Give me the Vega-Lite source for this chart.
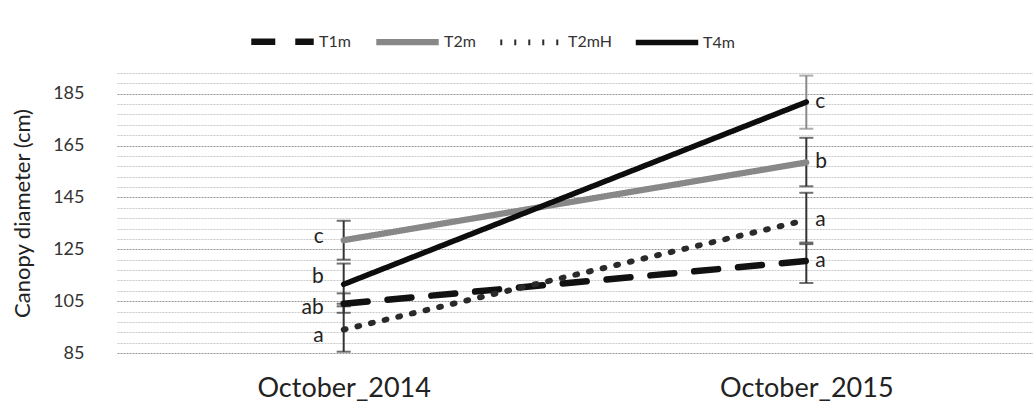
{
  "$schema": "https://vega.github.io/schema/vega-lite/v6.json",
  "width": 916,
  "height": 280,
  "autosize": {"type": "none"},
  "padding": {"left": 117, "top": 73, "right": 0, "bottom": 56},
  "background": "white",
  "config": {
    "font": "Lato",
    "view": {"stroke": null}
  },
  "data": {
    "values": [
      {"series": "T1m", "date": "October_2014", "mean": 104, "lo": 100.5, "hi": 108, "letter": "ab"},
      {"series": "T2m", "date": "October_2014", "mean": 128.5, "lo": 121, "hi": 136, "letter": "c"},
      {"series": "T2mH", "date": "October_2014", "mean": 94, "lo": 85.5, "hi": 103, "letter": "a"},
      {"series": "T4m", "date": "October_2014", "mean": 111.5, "lo": 104, "hi": 119.5, "letter": "b"},
      {"series": "T1m", "date": "October_2015", "mean": 120.5, "lo": 112, "hi": 127, "letter": "a"},
      {"series": "T2m", "date": "October_2015", "mean": 158.5, "lo": 149.3, "hi": 168, "letter": "b"},
      {"series": "T2mH", "date": "October_2015", "mean": 136.3, "lo": 127.6, "hi": 146.8, "letter": "a"},
      {"series": "T4m", "date": "October_2015", "mean": 181.8, "lo": 171.5, "hi": 192, "letter": "c"}
    ]
  },
  "encoding": {
    "x": {
      "field": "date", "type": "nominal",
      "scale": {"type": "point", "padding": 0.49},
      "axis": {
        "title": null, "labelAngle": 0, "domain": false, "ticks": false, "grid": false,
        "labelFontSize": 27, "labelColor": "#222", "labelPadding": 22
      }
    }
  },
  "layer": [
    {
      "mark": {"type": "rule", "strokeWidth": 2},
      "encoding": {
        "y": {
          "field": "lo", "type": "quantitative",
          "scale": {"domain": [85, 193], "nice": false, "zero": false},
          "axis": {
            "title": "Canopy diameter (cm)",
            "titleFontSize": 22, "titleFontWeight": "normal", "titleColor": "#222", "titlePadding": 18,
            "values": [85, 89, 93, 97, 101, 105, 109, 113, 117, 121, 125, 129, 133, 137, 141, 145, 149, 153, 157, 161, 165, 169, 173, 177, 181, 185, 189, 193],
            "tickCount": 60,
            "labelExpr": "(datum.value - 85) % 20 == 0 ? datum.label : ''",
            "labelOverlap": false, "labelFlush": false,
            "labelFontSize": 18, "labelColor": "#333", "labelPadding": 33,
            "domain": false, "ticks": false, "grid": true,
            "gridColor": {"condition": {"test": "(datum.value - 85) % 20 == 0", "value": "#959595"}, "value": "#c9c9c9"},
            "gridDash": [2, 1],
            "gridWidth": 1.2
          }
        },
        "y2": {"field": "hi"},
        "color": {"condition": {"test": "datum.series == 'T4m' && datum.date == 'October_2015'", "value": "#8a8a8a"}, "value": "#333"}
      }
    },
    {
      "mark": {"type": "tick", "thickness": 2, "size": 14},
      "encoding": {
        "y": {"field": "lo", "type": "quantitative"},
        "color": {"condition": {"test": "datum.series == 'T4m' && datum.date == 'October_2015'", "value": "#8a8a8a"}, "value": "#333"}
      }
    },
    {
      "mark": {"type": "tick", "thickness": 2, "size": 14},
      "encoding": {
        "y": {"field": "hi", "type": "quantitative"},
        "color": {"condition": {"test": "datum.series == 'T4m' && datum.date == 'October_2015'", "value": "#8a8a8a"}, "value": "#333"}
      }
    },
    {
      "mark": {"type": "line", "strokeCap": "round"},
      "encoding": {
        "y": {"field": "mean", "type": "quantitative"},
        "strokeWidth": {
          "field": "series", "type": "nominal",
          "scale": {"domain": ["T1m", "T2m", "T2mH", "T4m"], "range": [6.5, 5.5, 7, 5.5]},
          "legend": null
        },
        "color": {
          "field": "series", "type": "nominal",
          "scale": {"domain": ["T1m", "T2m", "T2mH", "T4m"], "range": ["#111", "#888888", "#2a2a2a", "#0d0d0d"]},
          "legend": {
            "title": null, "orient": "none", "direction": "horizontal",
            "legendX": 131, "legendY": -66,
            "symbolType": "stroke", "symbolSize": 3900, "symbolStrokeWidth": 5.5,
            "labelFontSize": 16, "labelColor": "#333", "labelOffset": 2, "columnPadding": 12
          }
        },
        "strokeDash": {
          "field": "series", "type": "nominal",
          "scale": {"domain": ["T1m", "T2m", "T2mH", "T4m"], "range": [[24, 20], [1, 0], [2, 12], [1, 0]]},
          "legend": {
            "title": null, "orient": "none", "direction": "horizontal",
            "legendX": 131, "legendY": -66,
            "symbolType": "stroke", "symbolSize": 3900, "symbolStrokeWidth": 5.5,
            "labelFontSize": 16, "labelColor": "#333", "labelOffset": 2, "columnPadding": 12
          }
        }
      }
    },
    {
      "transform": [{"filter": "datum.date == 'October_2014'"}],
      "mark": {
        "type": "text", "align": "right", "baseline": "middle", "dx": -20, "fontSize": 21, "color": "#222",
        "dy": {"expr": "datum.letter == 'b' ? -7 : datum.letter == 'ab' ? 4 : datum.letter == 'a' ? 6 : -3"}
      },
      "encoding": {
        "y": {"field": "mean", "type": "quantitative"},
        "text": {"field": "letter"}
      }
    },
    {
      "transform": [{"filter": "datum.date == 'October_2015'"}],
      "mark": {"type": "text", "align": "left", "baseline": "middle", "dx": 9, "fontSize": 21, "color": "#222"},
      "encoding": {
        "y": {"field": "mean", "type": "quantitative"},
        "text": {"field": "letter"}
      }
    }
  ]
}
